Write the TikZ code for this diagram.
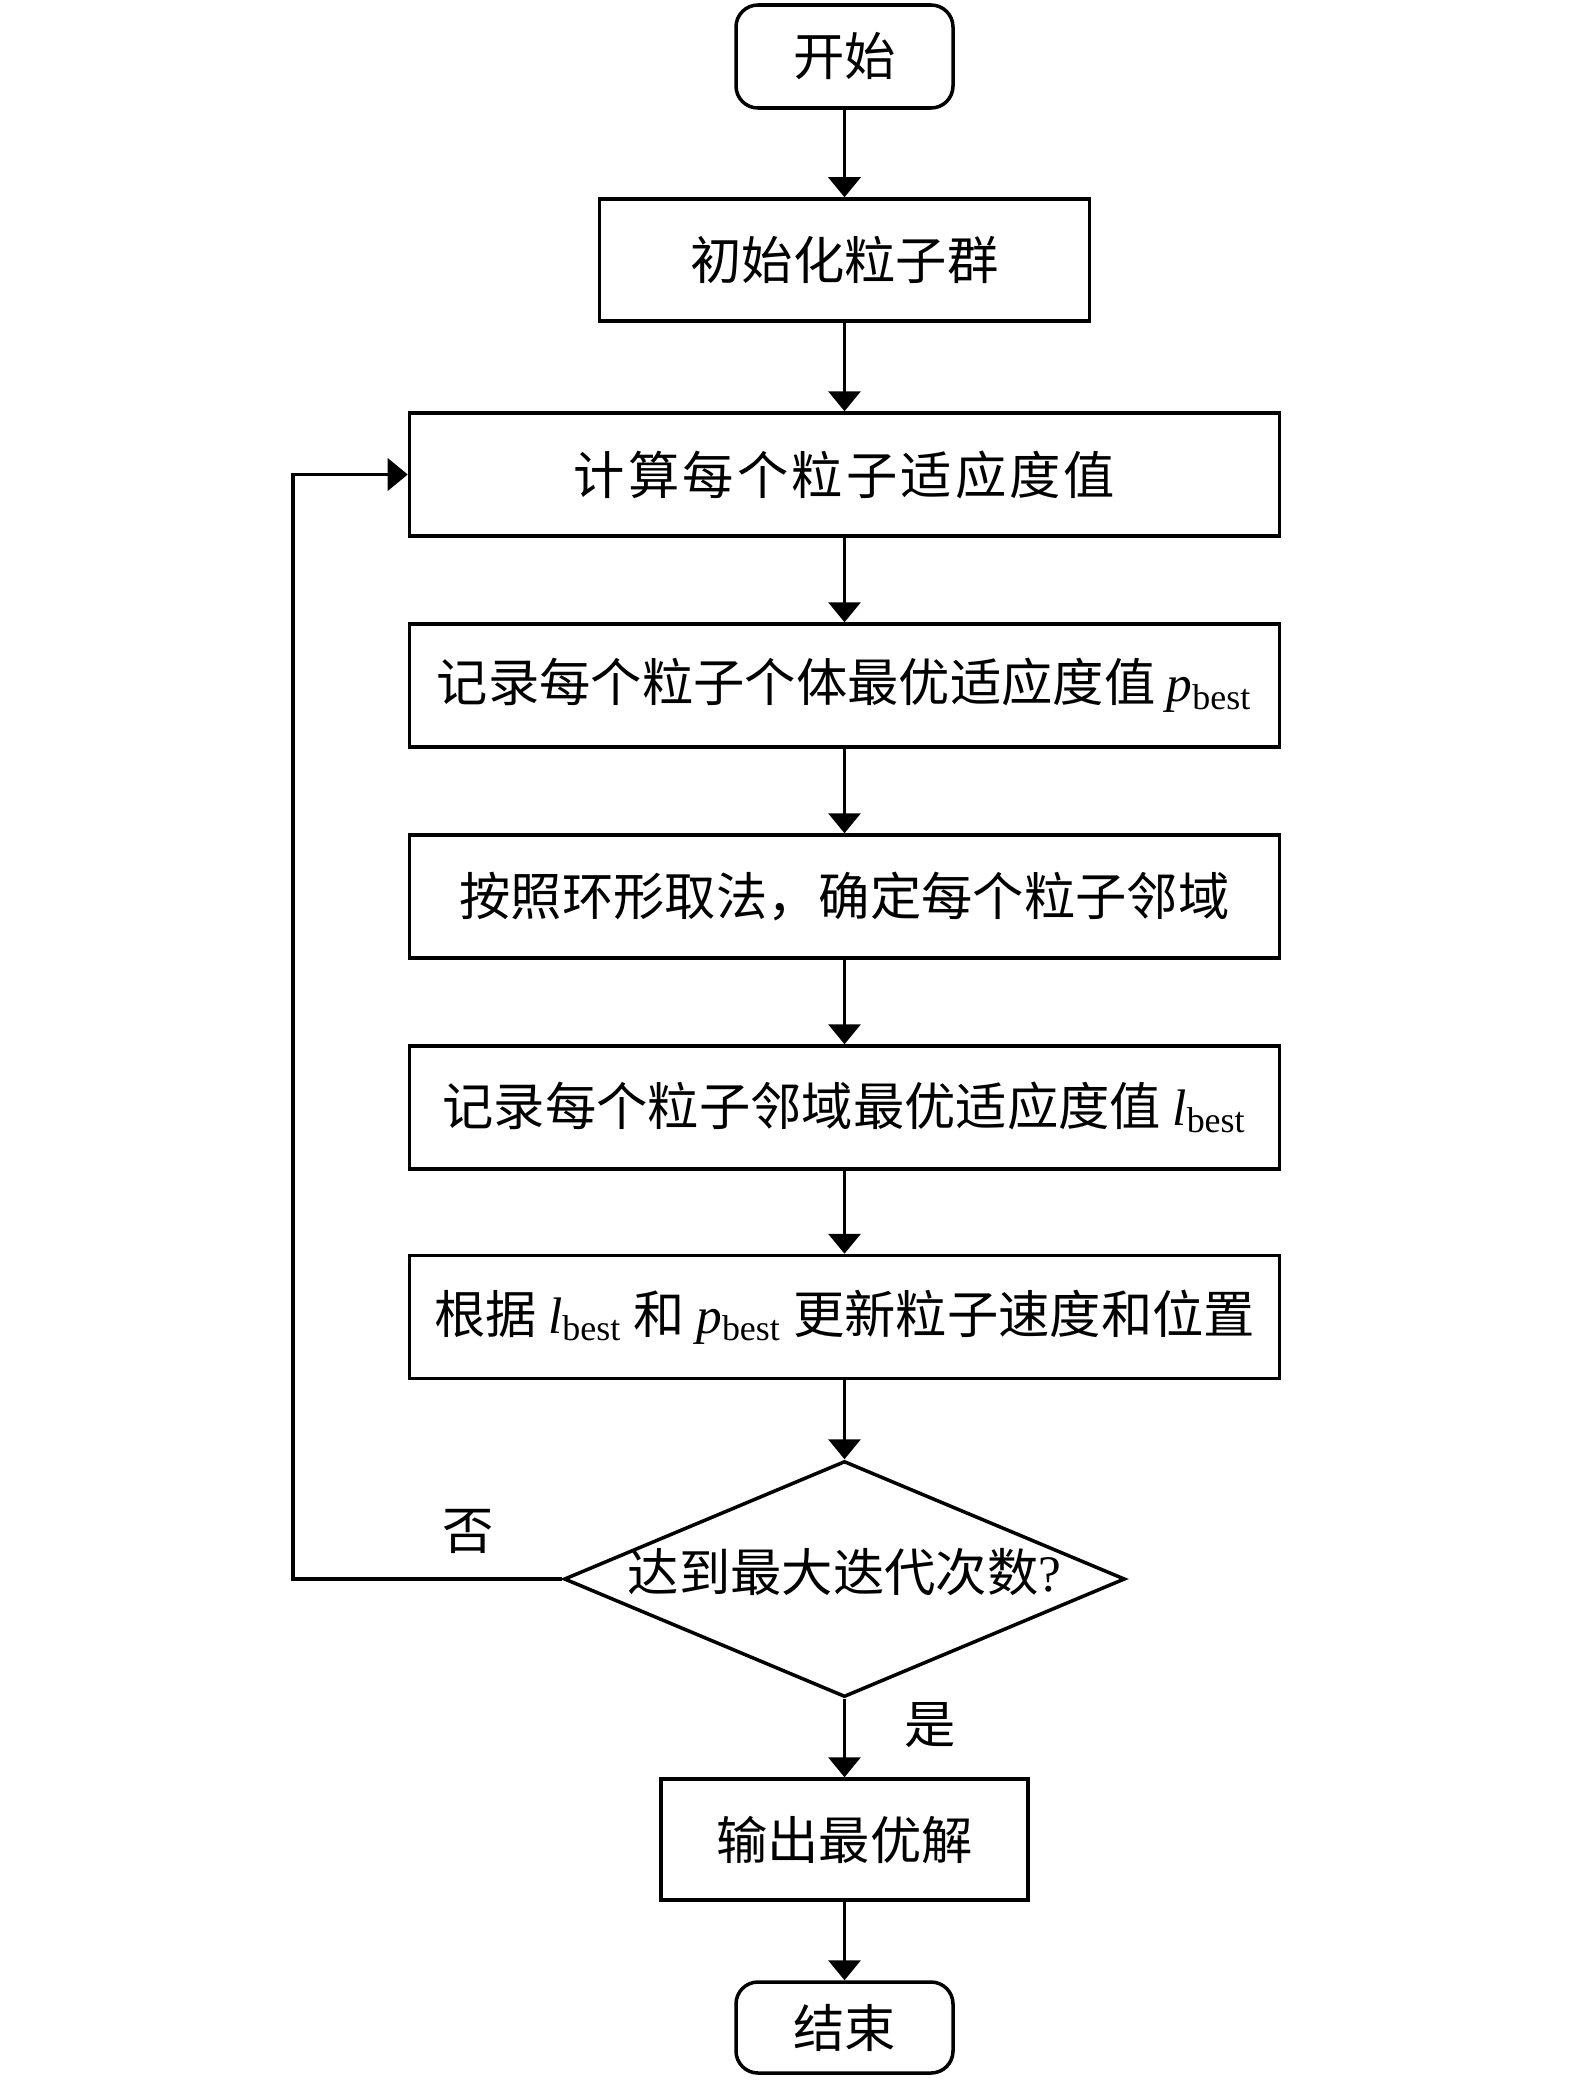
\documentclass[tikz,border=0pt]{standalone}
\usepackage{fontspec}
\setmainfont{Liberation Serif}
\newfontfamily\cjk{Noto Sans CJK SC}
\usetikzlibrary{shapes.geometric}
\usetikzlibrary{arrows.meta}
\newcommand{\pbest}{{\rmfamily\textit{p}\textsubscript{best}}}
\newcommand{\lbest}{{\rmfamily\textit{l}\textsubscript{best}}}
\tikzset{
  box/.style={draw, line width=1pt, minimum height=1.23cm, inner sep=0pt, font=\cjk\fontsize{14.6}{17}\selectfont},
  wide/.style={box, minimum width=8.70cm},
  term/.style={box, rounded corners=0.22cm, minimum width=2.17cm},
  decide/.style={box, diamond, aspect=2.38, minimum width=5.61cm, minimum height=2.36cm, text height=0.3cm, text depth=0.05cm},
  lab/.style={inner sep=0pt, font=\cjk\fontsize{14.6}{17}\selectfont},
  line/.style={line width=1pt, -{Triangle[width=0.32cm,length=0.2cm]}}
}

\begin{document}
\begin{tikzpicture}
\useasboundingbox (0,0) rectangle (15.75,-20.81);
\node[term, minimum height=1.03cm] (start) at (8.445,-0.565) {开始};
\node[box, minimum width=4.90cm, minimum height=1.22cm] (init) at (8.445,-2.60) {初始化粒子群};
\node[wide] (fit) at (8.445,-4.745) {计\hspace{0.9pt}算\hspace{0.9pt}每\hspace{0.9pt}个\hspace{0.9pt}粒\hspace{0.9pt}子\hspace{0.9pt}适\hspace{0.9pt}应\hspace{0.9pt}度\hspace{0.9pt}值};
\node[wide] (pb) at (8.445,-6.855) {记录每个粒子个体最优适应度值\ \pbest};
\node[wide] (ring) at (8.445,-8.965) {按照环形取法，确定每个粒子邻域};
\node[wide] (lb) at (8.445,-11.075) {记录每个粒子邻域最优适应度值\ \lbest};
\node[wide] (upd) at (8.445,-13.17) {根据\ \lbest\ 和\ \pbest\ 更新粒子速度和位置};
\node[decide] (stop) at (8.445,-15.79) {达到最大迭代次数{\rmfamily ?}};
\node[box, minimum width=3.67cm, minimum height=1.21cm] (out) at (8.445,-18.395) {输出最优解};
\node[term, minimum height=0.91cm] (end) at (8.445,-20.275) {结束};

\draw[line] (start) -- (init);
\draw[line] (init) -- (fit);
\draw[line] (fit) -- (pb);
\draw[line] (pb) -- (ring);
\draw[line] (ring) -- (lb);
\draw[line] (lb) -- (upd);
\draw[line] (upd) -- (stop);
\draw[line] (stop) -- node[lab, pos=0.34, right=0.585cm] (yes) {是} (out);
\draw[line] (out) -- (end);
% back to the fitness step
\draw[line] (stop.west) -- node[lab, pos=0.35, above=0.24cm] (no) {否} ++(-2.69,0) |- (fit.west);
\end{tikzpicture}
\end{document}
